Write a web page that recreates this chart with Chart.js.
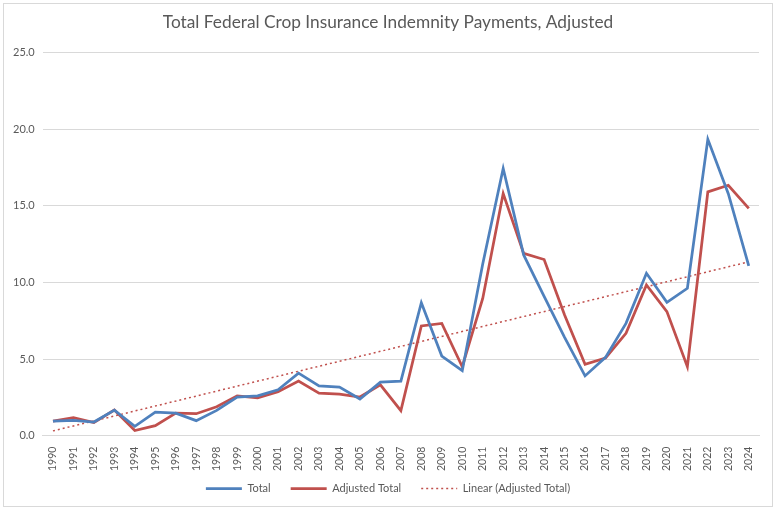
<!DOCTYPE html>
<html>
<head>
<meta charset="utf-8">
<script src="https://cdn.jsdelivr.net/npm/chart.js@4/dist/chart.umd.min.js"></script>
<style>
  html, body { margin: 0; padding: 0; background: #fff; }
  #wrap { position: relative; width: 775px; height: 509px; }
  #frame { position: absolute; left: 3px; top: 3px; width: 768px; height: 502px; border: 1px solid #d9d9d9; pointer-events: none; }
</style>
</head>
<body>
<div id="wrap">
  <canvas id="chartIndemnity" width="775" height="509"></canvas>
  <div id="frame"></div>
</div>
<script>
// data (billions)
const years = ['1990','1991','1992','1993','1994','1995','1996','1997','1998','1999',
  '2000','2001','2002','2003','2004','2005','2006','2007','2008','2009',
  '2010','2011','2012','2013','2014','2015','2016','2017','2018','2019',
  '2020','2021','2022','2023','2024'];
const totalPay = [0.95, 1.0, 0.89, 1.67, 0.61, 1.54, 1.47, 0.98, 1.65, 2.52,
  2.6, 2.99, 4.08, 3.25, 3.17, 2.39, 3.49, 3.56, 8.68, 5.2,
  4.24, 11.2, 17.44, 11.8, 9.1, 6.42, 3.9, 5.11, 7.33, 10.6,
  8.7, 9.62, 19.35, 15.8, 11.08];
const adjustedPay = [0.95, 1.17, 0.85, 1.67, 0.33, 0.65, 1.47, 1.43, 1.89, 2.6,
  2.47, 2.86, 3.56, 2.78, 2.71, 2.52, 3.32, 1.63, 7.16, 7.33,
  4.5, 8.96, 15.81, 11.9, 11.5, 7.88, 4.66, 5.07, 6.68, 9.84,
  8.1, 4.5, 15.92, 16.35, 14.84];
// trendline ends as drawn in the picture (first and last year)
const trendYears = ['1990', '2024'];
const trendEnds = [0.31, 11.35];
const yTicks = [0, 5, 10, 15, 20, 25];

const blue = '#4f81bd';
const red = '#c0504d';
const txt = '#595959';

const trendPay = trendYears.map((yr, i) => ({ x: yr, y: trendEnds[i] }));

// en spaces after legend texts keep the wide gaps between items
const legendTail = ['\u2002\u2002', '\u2002\u2002', ''];

// excel centres title and legend a bit right of the canvas middle
const centreNudge = {
    id: 'centreNudge',
    afterLayout(chart) {
        chart.legend.left += 12;
        chart.titleBlock.left += 12;
    }
};

const ctx = document.getElementById('chartIndemnity').getContext('2d');
const myChart = new Chart(ctx, {
    type: 'line',
    data: {
        labels: years,
        datasets: [{
            label: 'Total',
            data: totalPay,
            borderColor: blue,
            backgroundColor: blue,
            borderWidth: 2.75,
            pointRadius: 0,
            tension: 0,
            fill: false
        },
        {
            label: 'Adjusted Total',
            data: adjustedPay,
            borderColor: red,
            backgroundColor: red,
            borderWidth: 2.75,
            pointRadius: 0,
            tension: 0,
            fill: false
        },
        {
            label: 'Linear (Adjusted Total)',
            data: trendPay,
            borderColor: red,
            backgroundColor: red,
            borderWidth: 1.5,
            borderDash: [2, 3],
            pointRadius: 0,
            tension: 0,
            fill: false
        }]
    },
    options: {
        responsive: false,
        animation: false,
        layout: { padding: { left: 5, right: 16, top: 5, bottom: 5 } },
        plugins: {
            title: {
                display: true,
                text: 'Total Federal Crop Insurance Indemnity Payments, Adjusted',
                color: txt,
                font: { family: 'Lato', size: 17.3, weight: 'normal' },
                padding: { top: 7, bottom: 20 }
            },
            legend: {
                position: 'bottom',
                labels: {
                    color: txt,
                    font: { family: 'Lato', size: 11 },
                    usePointStyle: true,
                    pointStyleWidth: 36,
                    padding: 9,
                    generateLabels: (chart) => chart.data.datasets.map((ds, i) => ({
                        text: ds.label + legendTail[i],
                        datasetIndex: i,
                        pointStyle: 'line',
                        strokeStyle: ds.borderColor,
                        fillStyle: ds.borderColor,
                        lineWidth: i === 2 ? 1.5 : 2.75,
                        lineDash: ds.borderDash || [],
                        fontColor: txt
                    }))
                }
            },
            tooltip: { enabled: false }
        },
        scales: {
            x: {
                offset: true,
                grid: { display: false },
                border: { color: '#d9d9d9' },
                ticks: {
                    color: txt,
                    font: { family: 'Lato', size: 10.5 },
                    minRotation: 90,
                    maxRotation: 90,
                    autoSkip: false
                }
            },
            y: {
                min: yTicks[0],
                max: yTicks[yTicks.length - 1],
                afterBuildTicks: (axis) => { axis.ticks = yTicks.map(v => ({ value: v })); },
                grid: { color: '#d9d9d9', drawTicks: false },
                border: { display: false },
                ticks: {
                    color: txt,
                    font: { family: 'Lato', size: 11 },
                    padding: 8,
                    callback: (v) => Number(v).toFixed(1)
                }
            }
        }
    },
    plugins: [centreNudge]
});
</script>
</body>
</html>
